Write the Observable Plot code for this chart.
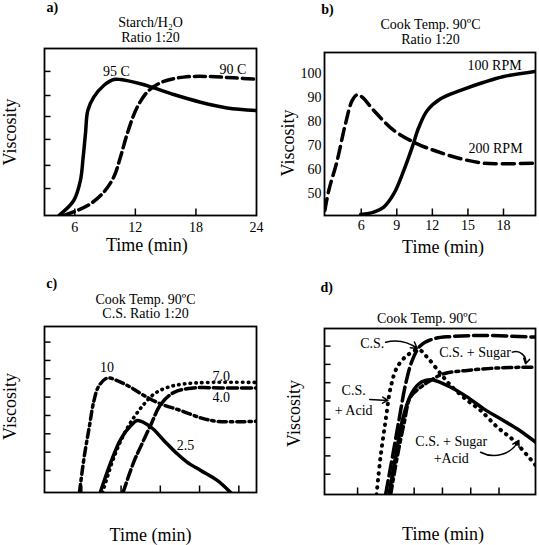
<!DOCTYPE html>
<html><head><meta charset="utf-8">
<script src="https://cdn.jsdelivr.net/npm/d3@7"></script>
<script src="https://cdn.jsdelivr.net/npm/@observablehq/plot@0.6"></script>
<style>
body{margin:0;background:#fff;}
#fig{position:relative;width:539px;height:545px;background:#fff;}
#fig svg{position:absolute;}
</style></head>
<body><div id="fig"></div>
<script>
// ---------- Panel a: Starch/H2O ratio 1:20 ----------
const aTicksX = [6, 12, 18, 24];
const aTicksY = [1.13, 2.1, 3.19, 4.15, 5.03, 6.04];
const aTime95 = [4.42, 5.9, 6.56, 6.83, 7.06, 7.29, 7.88, 8.87, 9.86, 10.52, 12.5, 13.82, 15.8, 18.45, 21.09, 24];
const aVisc95 = [0, 0.63, 1.47, 2.44, 3.44, 4.4, 4.96, 5.45, 5.7, 5.7, 5.52, 5.35, 5.07, 4.75, 4.51, 4.4];
const aTime90 = [4.91, 6.24, 7.55, 8.87, 9.86, 10.52, 11.19, 12.18, 13.33, 14.81, 16.79, 19.1, 21.74, 24];
const aVisc90 = [0, 0.21, 0.49, 0.98, 1.61, 2.44, 3.42, 4.54, 5.24, 5.62, 5.8, 5.83, 5.77, 5.71];

// ---------- Panel b: Cook temp 90C, RPM ----------
const bTicksX = [6, 9, 12, 15, 18];
const bTicksY = [50, 60, 70, 80, 90, 100];
const bTime200 = [2.93, 3.26, 3.97, 4.67, 5.24, 5.66, 6.08, 7.06, 8.75, 10.72, 12.41, 14.38, 16.34, 18.03, 20.7];
const bVisc200 = [42.9, 51.2, 63.7, 79.1, 88.8, 91.2, 90.2, 84.6, 76.3, 70.7, 67.5, 64.5, 62.6, 62.4, 62.6];
const bTime100 = [5.94, 7.06, 7.9, 8.75, 9.59, 10.3, 10.86, 11.57, 12.69, 14.38, 16.34, 18.03, 20.7];
const bVisc100 = [41.2, 42.2, 44.3, 49.9, 59.6, 69.3, 77.6, 84.6, 89.5, 93.0, 96.4, 98.8, 100.9];

// ---------- Panel c: C.S. ratio 1:20, pH ----------
const cTicksX = [1, 2, 3, 4, 5];
const cTicksY = [1, 2, 3, 4, 5, 6, 7, 8];
const cTime10 = [0.94, 1.06, 1.19, 1.31, 1.44, 1.65, 1.9, 2.25, 2.59, 3.01, 3.52, 4.03, 4.45, 5.45];
const cVisc10 = [-0.2, 1.73, 3.36, 4.81, 5.63, 6.04, 5.9, 5.53, 5.08, 4.63, 4.27, 3.87, 3.68, 3.68];
const cTime70 = [1.53, 1.82, 2.08, 2.33, 2.59, 2.84, 3.18, 3.6, 4.2, 5.45];
const cVisc70 = [-0.2, 1.73, 3.0, 3.9, 4.63, 5.17, 5.53, 5.72, 5.8, 5.8];
const cTime40 = [2.05, 2.33, 2.5, 2.76, 3.01, 3.35, 3.86, 4.54, 5.45];
const cVisc40 = [-0.2, 1.5, 2.3, 3.5, 4.6, 5.26, 5.5, 5.5, 5.5];
const cTime25 = [1.47, 1.74, 1.99, 2.25, 2.42, 2.76, 3.09, 3.43, 3.68, 4.03, 4.45, 4.79];
const cVisc25 = [-0.2, 1.45, 2.7, 3.45, 3.72, 3.36, 2.64, 1.91, 1.46, 1.0, 0.46, -0.2];

// ---------- Panel d: additives ----------
const dTicksX = [1, 2, 3, 4, 5, 6];
const dTicksY = [1, 2, 3, 4, 5, 6, 7, 8];
const dTimeCS = [1.99, 2.23, 2.46, 2.7, 2.93, 3.23, 3.7, 4.29, 5.46, 7.29];
const dViscCS = [-0.11, 1.93, 3.93, 5.94, 7.21, 8.03, 8.4, 8.52, 8.58, 8.49];
const dTimeAcid = [1.67, 1.81, 1.99, 2.17, 2.4, 2.76, 3.16, 3.46, 3.93, 4.29, 4.88, 5.35, 5.94, 6.52, 7.29];
const dViscAcid = [-0.11, 1.93, 3.93, 5.75, 6.85, 7.5, 7.8, 7.39, 6.5, 5.85, 5.03, 4.48, 3.57, 2.84, 1.5];
const dTimeSugar = [2.17, 2.4, 2.64, 2.87, 3.23, 3.58, 4.05, 4.88, 6.05, 7.29];
const dViscSugar = [-0.11, 1.93, 3.75, 5.21, 5.75, 6.12, 6.49, 6.67, 6.81, 6.85];
const dTimeSA = [2.11, 2.34, 2.58, 2.87, 3.17, 3.4, 3.64, 4.29, 4.88, 5.46, 6.05, 6.64, 7.29];
const dViscSA = [-0.11, 1.93, 3.93, 5.3, 5.94, 6.12, 6.16, 5.75, 5.21, 4.57, 4.03, 3.48, 2.75];

const FONT = '"Liberation Serif","Times New Roman",serif';
const fig = document.getElementById("fig");
const series = (xs, ys) => xs.map((x, i) => ({x, y: ys[i]}));
const line = (xs, ys, o) => Plot.line(series(xs, ys), {x: "x", y: "y", curve: "catmull-rom", stroke: "black", strokeWidth: 3.5, clip: true, ...o});
const lbl = (t, x, y, o = {}) => Plot.text([t], {x: [x], y: [y], fontSize: 14, fill: "black", ...o});
const dotted = (w) => ({strokeDasharray: "0.5," + w, strokeLinecap: "round"});

function panel(p) {
  const innerW = p.width - p.ml - p.mr, innerH = p.height - p.mt - p.mb;
  const marks = [Plot.frame({stroke: "black", strokeWidth: 1.8})];
  if (p.xIn) marks.push(Plot.tickX(p.xIn, {x: d => d, insetTop: innerH - 6.5, strokeWidth: 1.5}));
  if (p.yIn) marks.push(Plot.tickY(p.yIn, {y: d => d, insetRight: innerW - 6.5, strokeWidth: 1.5}));
  if (p.xLab) marks.push(Plot.axisX(p.xLab, {tickSize: 0, tickPadding: p.xPad, fontSize: 14, label: null}));
  if (p.yLab) marks.push(Plot.axisY(p.yLab, {tickSize: 0, tickPadding: p.yPad, fontSize: 14, label: null}));
  marks.push(
    Plot.text([p.tag], {frameAnchor: "top-left", dx: p.tag_d[0], dy: p.tag_d[1], textAnchor: "start", lineAnchor: "bottom", fontSize: 14, fontWeight: "bold"}),
    Plot.text([p.title], {frameAnchor: "top", dx: p.title_d[0], dy: p.title_d[1], textAnchor: "middle", lineAnchor: "bottom", fontSize: 14, lineHeight: 1.02}),
    Plot.text(["Viscosity"], {frameAnchor: "left", rotate: -90, dx: p.vis_d[0], dy: p.vis_d[1], textAnchor: "middle", lineAnchor: "bottom", fontSize: 18}),
    Plot.text(["Time (min)"], {frameAnchor: "bottom", dx: p.time_d[0], dy: p.time_d[1], textAnchor: "middle", lineAnchor: "bottom", fontSize: 18}),
    ...p.marks
  );
  const svg = Plot.plot({
    width: p.width, height: p.height,
    marginLeft: p.ml, marginRight: p.mr, marginTop: p.mt, marginBottom: p.mb,
    x: {domain: p.xd, axis: null}, y: {domain: p.yd, axis: null},
    style: {fontFamily: FONT, fontSize: "14px", color: "black", background: "transparent", overflow: "visible"},
    marks
  });
  svg.style.left = p.left + "px";
  svg.style.top = p.top + "px";
  fig.append(svg);
}

panel({
  left: 0, top: 0, width: 270, height: 272, ml: 44, mr: 14, mt: 48, mb: 57,
  xd: [3, 24], yd: [0, 7], xIn: aTicksX.slice(0, 3), yIn: aTicksY, xLab: aTicksX, xPad: 7,
  tag: "a)", tag_d: [2, -37], title: "Starch/H\u2082O\nRatio 1:20", title_d: [0, -7],
  vis_d: [-29, 0], time_d: [-3.7, 35],
  marks: [
    line(aTime95, aVisc95, {}),
    line(aTime90, aVisc90, {strokeDasharray: "11,5"}),
    lbl("95 C", 10.13, 6.02),
    lbl("90 C", 21.66, 6.1)
  ]
});

panel({
  left: 270, top: 0, width: 269, height: 272, ml: 54, mr: 4, mt: 52, mb: 57,
  xd: [2.9, 20.7], yd: [40.8, 108.8], xIn: bTicksX, xLab: bTicksX, xPad: 5, yLab: bTicksY, yPad: 3,
  tag: "b)", tag_d: [-3.3, -39], title: "Cook Temp. 90\u00BAC\nRatio 1:20", title_d: [0.5, -9],
  vis_d: [-30.7, 9], time_d: [13, 37],
  marks: [
    line(bTime200, bVisc200, {strokeDasharray: "12,6"}),
    line(bTime100, bVisc100, {}),
    lbl("100 RPM", 17.25, 103.5),
    lbl("200 RPM", 17.33, 68.6)
  ]
});

panel({
  left: 0, top: 272, width: 270, height: 273, ml: 44, mr: 14, mt: 54, mb: 53,
  xd: [0.05, 5.45], yd: [-0.2, 8.85], xIn: cTicksX, yIn: cTicksY,
  tag: "c)", tag_d: [1.7, -38.7], title: "Cook Temp. 90\u00BAC\nC.S. Ratio 1:20", title_d: [-5, -8.3],
  vis_d: [-28.3, -3], time_d: [0, 48],
  marks: [
    line(cTime10, cVisc10, {strokeDasharray: "8,4,2.5,4"}),
    line(cTime70, cVisc70, {...dotted(5.3), strokeWidth: 3.6}),
    line(cTime40, cVisc40, {strokeDasharray: "10,4"}),
    line(cTime25, cVisc25, {}),
    lbl("10", 1.64, 6.62),
    lbl("7.0", 4.55, 6.1),
    lbl("4.0", 4.55, 4.99),
    lbl("2.5", 3.64, 2.36)
  ]
});

panel({
  left: 270, top: 272, width: 269, height: 273, ml: 54, mr: 4, mt: 56, mb: 51,
  xd: [-0.17, 7.29], yd: [-0.11, 8.96], xIn: dTicksX, yIn: dTicksY,
  tag: "d)", tag_d: [-4, -37], title: "Cook Temp. 90\u00BAC", title_d: [-3, -5.7],
  vis_d: [-25, 2], time_d: [13, 45],
  marks: [
    line(dTimeCS, dViscCS, {strokeDasharray: "14,5"}),
    line(dTimeAcid, dViscAcid, {...dotted(6.5), strokeWidth: 4}),
    line(dTimeSugar, dViscSugar, {strokeDasharray: "9,4,3,4"}),
    line(dTimeSA, dViscSA, {}),
    Plot.arrow([{x1: 1.99, y1: 8.21, x2: 3.11, y2: 7.87}], {x1: "x1", y1: "y1", x2: "x2", y2: "y2", bend: 25, headLength: 7, strokeWidth: 1.5, stroke: "black"}),
    Plot.arrow([{x1: 1.43, y1: 5.08, x2: 2.07, y2: 5.03}], {x1: "x1", y1: "y1", x2: "x2", y2: "y2", headLength: 7, strokeWidth: 1.5, stroke: "black"}),
    Plot.arrow([{x1: 6.47, y1: 7.67, x2: 6.94, y2: 7.03}], {x1: "x1", y1: "y1", x2: "x2", y2: "y2", bend: 60, headLength: 7, strokeWidth: 1.5, stroke: "black"}),
    Plot.arrow([{x1: 5.35, y1: 2.2, x2: 6.7, y2: 2.84}], {x1: "x1", y1: "y1", x2: "x2", y2: "y2", bend: -45, headLength: 7, strokeWidth: 1.5, stroke: "black"}),
    lbl("C.S.", 1.52, 8.16),
    lbl("C.S.\n+ Acid", 0.86, 5.12, {lineHeight: 1.4}),
    lbl("C.S. + Sugar", 5.15, 7.67),
    lbl("C.S. + Sugar\n+Acid", 4.31, 2.39, {lineHeight: 1.2})
  ]
});
</script></body></html>
